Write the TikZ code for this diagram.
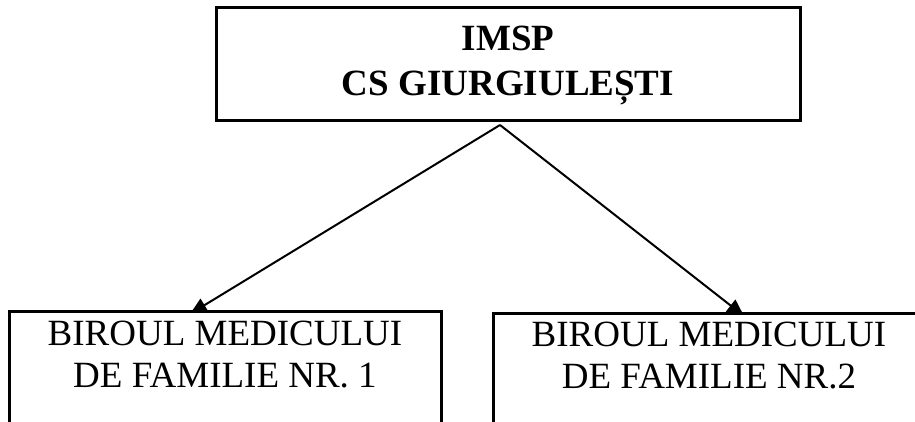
\documentclass[tikz,border=0pt]{standalone}
\usepackage{fontspec}
\setmainfont{Liberation Serif}
\usetikzlibrary{arrows.meta, positioning}

\begin{document}
\begin{tikzpicture}[x=1pt, y=1pt,
    box/.style={draw, line width=3pt, fill=white, inner sep=0pt, outer sep=0pt, anchor=north, align=center,
        font=\fontsize{37}{42}\selectfont},
    link/.style={line width=2pt, -{Triangle[length=17pt, width=15pt]}}]
    \useasboundingbox (0,0) rectangle (915,-421);

    % arrows first, the boxes cover their tips
    \coordinate (apex) at (500,-125);
    \coordinate (endL) at (190,-314);
    \coordinate (endR) at (744,-316);
    \draw[link] (apex) -- (endL);
    \draw[link] (apex) -- (endR);

    \node[box, minimum width=584pt, text height=87.5pt, text depth=25pt,
        font=\fontsize{37}{45}\selectfont\bfseries] (imsp) at (508,-7.5) {IMSP\\CS GIURGIULEȘTI};
    \node[box, minimum width=432pt, text height=76pt, text depth=73pt] (birou1) at (225,-311)
        {BIROUL MEDICULUI\\DE FAMILIE NR. 1};
    \node[box, minimum width=432pt, text height=75pt, text depth=72pt] (birou2) at (709,-313)
        {BIROUL MEDICULUI\\DE FAMILIE NR.2};
\end{tikzpicture}
\end{document}
